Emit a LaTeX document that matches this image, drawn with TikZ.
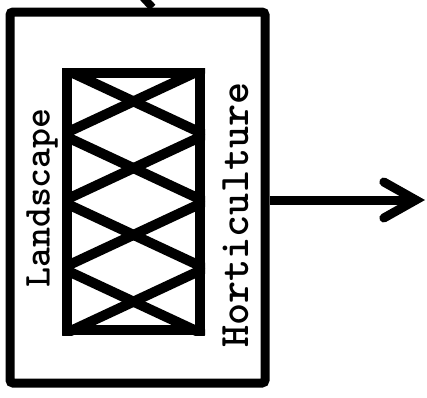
\documentclass[tikz,border=0pt]{standalone}
\usepackage{fontspec}
\newfontfamily\typefont{lmmonolt10-bold.otf}
\usepackage{tikz}
\usetikzlibrary{arrows.meta}
\usetikzlibrary{calc}
\tikzset{
  plot_box/.style = {rectangle, draw=black, line width=9pt,
    inner sep=0pt, rounded corners=3pt},% outer plot
  bed_box/.style = {rectangle, draw=black, line width=10pt,
    inner sep=0pt},% planted bed
  hatch_line/.style = {line width=10pt},
  side_label/.style = {rotate=90, inner sep=0pt,
    font=\fontsize{#1}{#1}\selectfont\typefont},
  flow_arrow/.style = {line width=9pt,
    -{Straight Barb[length=32pt, width=36pt, line cap=round]}}
}

\begin{document}
\begin{tikzpicture}[x=1pt, y=-1pt]
  \useasboundingbox (0,0) rectangle (427,397);
  \node [plot_box, minimum width=255pt, minimum height=371pt] (plot) at (137.5,197.5) {};
  \node [bed_box, minimum width=133pt, minimum height=257pt] (bed) at (133.5,201.5) {};
  \begin{scope}
    \clip (bed.north west) rectangle (bed.south east);
    \foreach \i in {0,...,3}{
      \draw [hatch_line] ($(bed.north west)!{\i/4}!(bed.south west)$)
        -- ($(bed.north east)!{(\i+1)/4}!(bed.south east)$);
      \draw [hatch_line] ($(bed.north east)!{\i/4}!(bed.south east)$)
        -- ($(bed.north west)!{(\i+1)/4}!(bed.south west)$);
    }
  \end{scope}
  \node [side_label=38] (land) at (42,198) {Landscape};
  \node [side_label=42] (hort) at (236,215) {Horticulture};
  \coordinate (stem) at (140,-6);
  \coordinate (out) at (425,200);
  \draw [line width=8pt] (stem) -- ([xshift=15pt]plot.north);
  \draw [flow_arrow] (plot.east |- out) -- (out);
\end{tikzpicture}
\end{document}
